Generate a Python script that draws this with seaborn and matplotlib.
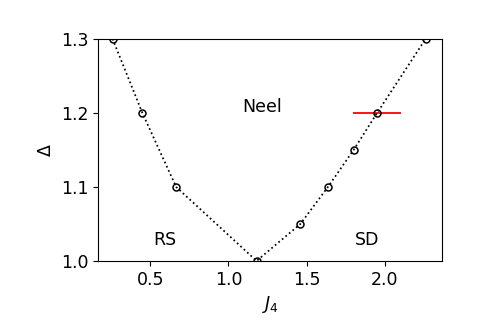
import matplotlib
matplotlib.use("Agg")
import matplotlib.pyplot as plt
import seaborn as sns
import pandas as pd

j4 = [0.26, 0.45, 0.666, 1.18, 1.46, 1.636, 1.80, 1.95, 2.26]
delta = [1.30, 1.20, 1.10, 1.00, 1.05, 1.10, 1.15, 1.20, 1.30]
err_x = [1.95]
err_y = [1.20]
err_w = [0.155]
phase_labels = ["Neel", "RS", "SD"]
phase_x = [1.215, 0.596, 1.885]
phase_y = [1.208, 1.028, 1.028]

df = pd.DataFrame({"J4": j4, "Delta": delta})

fig, ax = plt.subplots(figsize=(4.91, 3.27), dpi=100)
fig.subplots_adjust(left=0.2, right=0.9, top=0.881, bottom=0.202)

ax.errorbar(err_x, err_y, xerr=err_w, fmt="none", ecolor="red", elinewidth=1.3, zorder=1)
sns.lineplot(data=df, x="J4", y="Delta", sort=False, estimator=None, color="k",
             linestyle=":", linewidth=1.25, marker="o", markersize=5,
             markerfacecolor="none", markeredgecolor="k", markeredgewidth=1.1,
             ax=ax, zorder=2)

for t, x, y in zip(phase_labels, phase_x, phase_y):
    ax.text(x, y, t, fontsize=12.5, ha="center", va="center")

ax.set_xlim(0.168, 2.364)
ax.set_ylim(1.0, 1.3)
ax.set_xticks([0.5, 1.0, 1.5, 2.0])
ax.set_yticks([1.0, 1.1, 1.2, 1.3])
ax.tick_params(labelsize=12.5)
ax.set_xlabel(r"$J_4$", fontsize=12.5)
ax.set_ylabel(r"$\Delta$", fontsize=12.5)

fig.savefig("out.png", dpi=100)
